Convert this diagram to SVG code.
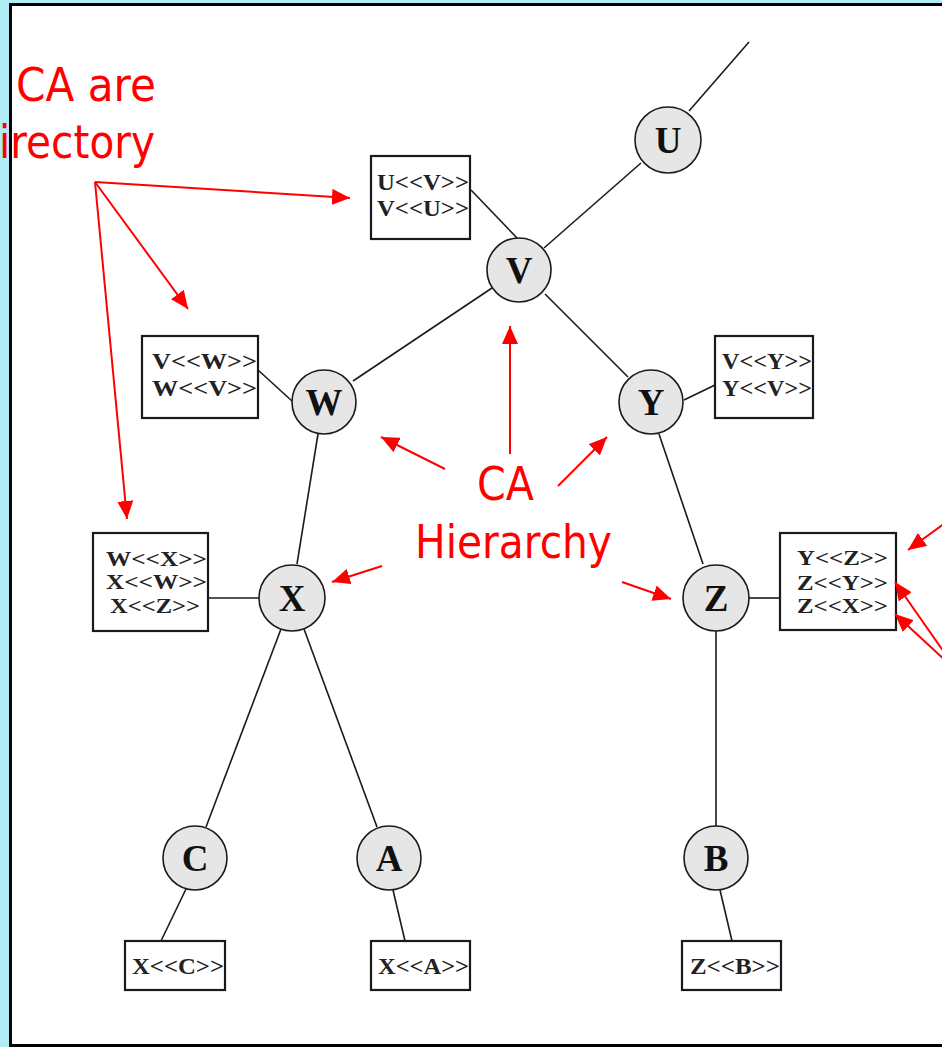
<svg xmlns="http://www.w3.org/2000/svg" width="942" height="1047" viewBox="0 0 942 1047">
  <style>
    .ca circle { fill: #e6e6e6; stroke: #1a1a1a; stroke-width: 1.6; }
    .ca text { font-family: "Liberation Serif", "DejaVu Serif", serif; font-weight: bold; font-size: 37px; fill: #111; text-anchor: middle; }
    .cert rect { fill: #ffffff; stroke: #1a1a1a; stroke-width: 2.2; }
    .cert text { font-family: "Liberation Serif", "DejaVu Serif", serif; font-weight: bold; font-size: 24px; fill: #222; }
    .cert.tight text { font-size: 21px; }
    .edges line { stroke: #1a1a1a; stroke-width: 1.6; }
    .note text { font-family: "DejaVu Sans", "Liberation Sans", sans-serif; font-size: 47px; fill: #ff0000; }
    .pointers line { stroke: #ff0000; stroke-width: 2; marker-end: url(#head); }
  </style>
  <defs>
    <marker id="head" markerUnits="userSpaceOnUse" markerWidth="20" markerHeight="16" refX="18" refY="8" orient="auto">
      <path d="M0,0 L18,8 L0,16 Z" fill="#ff0000"/>
    </marker>
  </defs>

  <!-- slide background and white panel -->
  <rect x="0" y="0" width="942" height="1047" fill="#b0edf7"/>
  <rect x="10.5" y="4.5" width="960" height="1041" fill="#ffffff" stroke="#000000" stroke-width="3"/>

  <!-- tree connectors -->
  <g id="connectors" class="edges">
    <line x1="749" y1="42" x2="689" y2="111"/>
    <line x1="641" y1="163" x2="544" y2="248"/>
    <line x1="471" y1="190" x2="517" y2="238"/>
    <line x1="492" y1="288" x2="353" y2="381"/>
    <line x1="545" y1="294" x2="628" y2="377"/>
    <line x1="258" y1="370" x2="292" y2="401"/>
    <line x1="684" y1="400" x2="715" y2="385"/>
    <line x1="318" y1="434" x2="297" y2="564"/>
    <line x1="208" y1="598" x2="259" y2="598"/>
    <line x1="659" y1="434" x2="703" y2="564"/>
    <line x1="749" y1="598" x2="780" y2="598"/>
    <line x1="281" y1="629" x2="206" y2="827"/>
    <line x1="304" y1="629" x2="377" y2="827"/>
    <line x1="716" y1="630" x2="716" y2="826"/>
    <line x1="186" y1="889" x2="161" y2="941"/>
    <line x1="393" y1="890" x2="405" y2="941"/>
    <line x1="720" y1="890" x2="732" y2="941"/>
  </g>

  <!-- certification authorities -->
  <g id="node-U" class="ca"><circle cx="668" cy="140" r="33"/><text x="668" y="153">U</text></g>
  <g id="node-V" class="ca"><circle cx="519" cy="270" r="32"/><text x="519" y="283">V</text></g>
  <g id="node-W" class="ca"><circle cx="324" cy="402" r="32"/><text x="324" y="415">W</text></g>
  <g id="node-Y" class="ca"><circle cx="651" cy="402" r="32"/><text x="651" y="415">Y</text></g>
  <g id="node-X" class="ca"><circle cx="292" cy="598" r="33"/><text x="292" y="611">X</text></g>
  <g id="node-Z" class="ca"><circle cx="716" cy="598" r="33"/><text x="716" y="611">Z</text></g>
  <g id="node-C" class="ca"><circle cx="195" cy="858" r="32"/><text x="195" y="871">C</text></g>
  <g id="node-A" class="ca"><circle cx="389" cy="858" r="32"/><text x="389" y="871">A</text></g>
  <g id="node-B" class="ca"><circle cx="716" cy="858" r="32"/><text x="716" y="871">B</text></g>

  <!-- certificate stores -->
  <g id="certs-V" class="cert">
    <rect x="371" y="156" width="99" height="83"/>
    <text x="377" y="190" textLength="92" lengthAdjust="spacingAndGlyphs">U&lt;&lt;V&gt;&gt;</text>
    <text x="377" y="216" textLength="92" lengthAdjust="spacingAndGlyphs">V&lt;&lt;U&gt;&gt;</text>
  </g>
  <g id="certs-W" class="cert">
    <rect x="142" y="336" width="116" height="82"/>
    <text x="152" y="369" textLength="105" lengthAdjust="spacingAndGlyphs">V&lt;&lt;W&gt;&gt;</text>
    <text x="152" y="396" textLength="105" lengthAdjust="spacingAndGlyphs">W&lt;&lt;V&gt;&gt;</text>
  </g>
  <g id="certs-Y" class="cert">
    <rect x="715" y="336" width="98" height="82"/>
    <text x="722" y="369" textLength="90" lengthAdjust="spacingAndGlyphs">V&lt;&lt;Y&gt;&gt;</text>
    <text x="722" y="396" textLength="90" lengthAdjust="spacingAndGlyphs">Y&lt;&lt;V&gt;&gt;</text>
  </g>
  <g id="certs-X" class="cert tight">
    <rect x="93" y="533" width="115" height="98"/>
    <text x="106" y="566" textLength="101" lengthAdjust="spacingAndGlyphs">W&lt;&lt;X&gt;&gt;</text>
    <text x="106" y="589" textLength="101" lengthAdjust="spacingAndGlyphs">X&lt;&lt;W&gt;&gt;</text>
    <text x="110" y="613" textLength="90" lengthAdjust="spacingAndGlyphs">X&lt;&lt;Z&gt;&gt;</text>
  </g>
  <g id="certs-Z" class="cert tight">
    <rect x="780" y="533" width="116" height="97"/>
    <text x="797" y="565" textLength="91" lengthAdjust="spacingAndGlyphs">Y&lt;&lt;Z&gt;&gt;</text>
    <text x="797" y="590" textLength="91" lengthAdjust="spacingAndGlyphs">Z&lt;&lt;Y&gt;&gt;</text>
    <text x="797" y="613" textLength="91" lengthAdjust="spacingAndGlyphs">Z&lt;&lt;X&gt;&gt;</text>
  </g>
  <g id="certs-C" class="cert">
    <rect x="125" y="941" width="100" height="49"/>
    <text x="132" y="974" textLength="92" lengthAdjust="spacingAndGlyphs">X&lt;&lt;C&gt;&gt;</text>
  </g>
  <g id="certs-A" class="cert">
    <rect x="371" y="941" width="99" height="49"/>
    <text x="378" y="974" textLength="91" lengthAdjust="spacingAndGlyphs">X&lt;&lt;A&gt;&gt;</text>
  </g>
  <g id="certs-B" class="cert">
    <rect x="682" y="941" width="99" height="49"/>
    <text x="690" y="974" textLength="90" lengthAdjust="spacingAndGlyphs">Z&lt;&lt;B&gt;&gt;</text>
  </g>

  <!-- red callouts -->
  <g id="callout-directory" class="note">
    <text x="16" y="101" textLength="140" lengthAdjust="spacingAndGlyphs">CA are</text>
    <text x="-1" y="158" textLength="156" lengthAdjust="spacingAndGlyphs">irectory</text>
  </g>
  <g id="callout-hierarchy" class="note">
    <text x="477" y="500" textLength="57" lengthAdjust="spacingAndGlyphs">CA</text>
    <text x="415" y="558" textLength="197" lengthAdjust="spacingAndGlyphs">Hierarchy</text>
  </g>
  <g id="pointers" class="pointers">
    <line x1="95" y1="182" x2="350" y2="198"/>
    <line x1="95" y1="182" x2="188" y2="309"/>
    <line x1="95" y1="182" x2="127" y2="519"/>
    <line x1="510" y1="454" x2="510" y2="326"/>
    <line x1="445" y1="469" x2="381" y2="437"/>
    <line x1="558" y1="486" x2="607" y2="437"/>
    <line x1="382" y1="566" x2="332" y2="582"/>
    <line x1="622" y1="582" x2="671" y2="599"/>
    <line x1="952" y1="518" x2="908" y2="550"/>
    <line x1="958" y1="672" x2="895" y2="582"/>
    <line x1="958" y1="672" x2="895" y2="614"/>
  </g>
</svg>
